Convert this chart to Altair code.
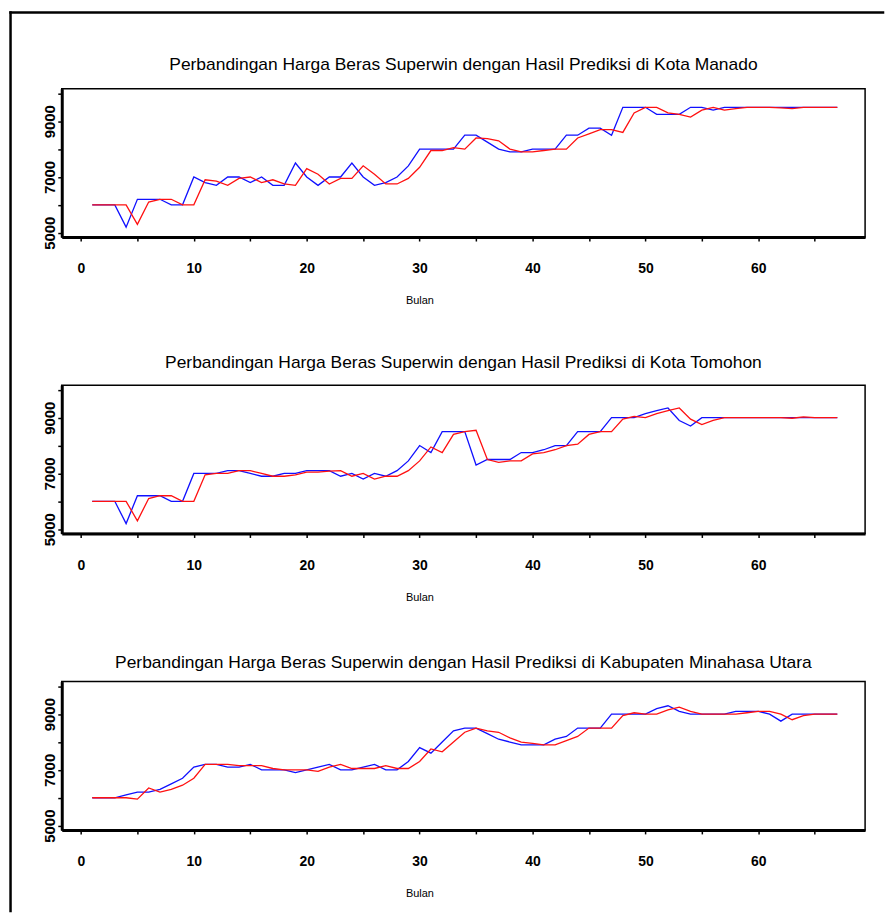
import altair as alt
import pandas as pd

bulan = list(range(1, 68))

manado_aktual = [6000, 6000, 6000, 5200, 6200, 6200, 6200, 6000, 6000,
                 7000, 6800, 6700, 7000, 7000, 6800, 7000, 6700, 6700, 7500,
                 7000, 6700, 7000, 7000, 7500, 7000, 6700, 6800, 7000, 7400,
                 8000, 8000, 8000, 8000, 8500, 8500, 8250, 8000, 7900, 7900,
                 8000, 8000, 8000, 8500, 8500, 8750, 8750, 8500, 9500, 9500,
                 9500, 9250, 9250, 9250, 9500, 9500, 9400,
                 9500, 9500, 9500, 9500, 9500, 9500, 9500, 9500, 9500, 9500, 9500]
manado_prediksi = [6000, 6000, 6000, 6000, 5300, 6100, 6200, 6200, 6000, 6000,
                   6900, 6850, 6700, 6950, 7000, 6800, 6900, 6750, 6700, 7300,
                   7100, 6750, 6950, 6950, 7400, 7100, 6750, 6750, 6950, 7350,
                   7950, 7950, 8050, 8000, 8400, 8380, 8300, 8000, 7900, 7900,
                   7950, 8000, 8000, 8400, 8550, 8700, 8700, 8600, 9300, 9500,
                   9500, 9300, 9250, 9150, 9400, 9500, 9400, 9450, 9500, 9500,
                   9500, 9480, 9450, 9500, 9500, 9500, 9500]

tomohon_aktual = [6000, 6000, 6000, 5200, 6200, 6200, 6200, 6000, 6000,
                  7000, 7000, 7000, 7100, 7100, 7000, 6900, 6900, 7000, 7000,
                  7100, 7100, 7100, 6900, 7000, 6800, 7000, 6900, 7100, 7450,
                  8000, 7750, 8500, 8500, 8500, 7300, 7500, 7500, 7500, 7750,
                  7750, 7850, 8000, 8000, 8500, 8500, 8500, 9000, 9000, 9000,
                  9150, 9250, 9350, 8900, 8700,
                  9000, 9000, 9000, 9000, 9000, 9000, 9000, 9000, 9000, 9000, 9000, 9000, 9000]
tomohon_prediksi = [6000, 6000, 6000, 6000, 5300, 6100, 6200, 6200, 6000, 6000,
                    6950, 7000, 7000, 7100, 7100, 7000, 6900, 6900, 6950, 7050,
                    7050, 7080, 7100, 6900, 7000, 6800, 6900, 6900, 7100, 7450,
                    7950, 7750, 8400, 8500, 8550, 7500, 7400, 7450, 7450, 7700,
                    7750, 7850, 8000, 8050, 8400, 8500, 8500, 8950, 9050, 9000,
                    9150, 9250, 9350, 8950, 8750, 8900, 9000, 9000, 9000, 9000,
                    9000, 9000, 8980, 9030, 9000, 9000, 9000]

minut_aktual = [6000, 6000, 6000, 6100, 6200, 6200, 6300, 6500, 6700, 7100,
                7200, 7200, 7100, 7100, 7200, 7000, 7000, 7000, 6900, 7000,
                7100, 7200, 7000, 7000, 7100, 7200, 7000, 7000, 7300, 7800,
                7600, 8000, 8400, 8500, 8500, 8300, 8100, 8000, 7900, 7900,
                7900, 8100, 8200, 8500, 8500, 8500, 9000, 9000, 9000, 9000,
                9200, 9300, 9100, 9000, 9000, 9000, 9000, 9100, 9100, 9100,
                9000, 8750, 9000, 9000, 9000, 9000, 9000]
minut_prediksi = [6000, 6000, 6000, 6000, 5950, 6350, 6200, 6300, 6450, 6700,
                  7200, 7200, 7200, 7150, 7150, 7150, 7050, 7000, 7000, 7000,
                  6950, 7100, 7200, 7050, 7050, 7050, 7150, 7050, 7050, 7300,
                  7750, 7650, 8000, 8350, 8500, 8400, 8350, 8150, 8000, 7950,
                  7900, 7900, 8050, 8200, 8500, 8500, 8500, 8950, 9050, 9000,
                  9000, 9150, 9250, 9100, 9000, 9000, 9000, 9000, 9050, 9100,
                  9100, 9000, 8800, 8950, 9000, 9000, 9000]

judul = [
    "Perbandingan Harga Beras Superwin dengan Hasil Prediksi di Kota Manado",
    "Perbandingan Harga Beras Superwin dengan Hasil Prediksi di Kota Tomohon",
    "Perbandingan Harga Beras Superwin dengan Hasil Prediksi di Kabupaten Minahasa Utara",
]
seri = ["Aktual", "Prediksi"]
warna = ["#1010ff", "#ff1010"]
x_ticks = [0, 5, 10, 15, 20, 25, 30, 35, 40, 45, 50, 55, 60, 65]
y_ticks = [5000, 6000, 7000, 8000, 9000, 10000]

W, H = 807, 149


def panel(aktual, prediksi, title, title_offset, border=False):
    df = pd.DataFrame({"Bulan": bulan, "Aktual": aktual, "Prediksi": prediksi})
    lines = alt.Chart(df).transform_fold(seri, as_=["Seri", "Harga"]).mark_line(
        strokeWidth=1.3
    ).encode(
        x=alt.X("Bulan:Q",
                scale=alt.Scale(domain=[-1.7, 69.46], nice=False, zero=False),
                axis=alt.Axis(values=x_ticks, title="Bulan",
                              labelExpr="datum.value % 10 == 0 ? datum.label : ''")),
        y=alt.Y("Harga:Q",
                scale=alt.Scale(domain=[4846, 10168], nice=False, zero=False),
                axis=alt.Axis(values=y_ticks, title=None, format="d",
                              labelExpr="datum.value % 2000 == 1000 ? datum.label : ''")),
        color=alt.Color("Seri:N", scale=alt.Scale(domain=seri, range=warna), legend=None),
        order=alt.Order("Bulan:Q"),
    )
    one = pd.DataFrame({"k": [0]})
    judul_teks = alt.Chart(one).mark_text(
        font="Liberation Sans", fontSize=17.5, color="black",
        align="center", baseline="alphabetic",
    ).encode(x=alt.value(W / 2), y=alt.value(-title_offset), text=alt.value(title))
    layers = [lines, judul_teks]
    if border:
        top = alt.Chart(one).mark_rule(color="black", strokeWidth=2.5, strokeCap="square").encode(
            x=alt.value(-51.45), x2=alt.value(825), y=alt.value(-76.45))
        left = alt.Chart(one).mark_rule(color="black", strokeWidth=2.5, strokeCap="square").encode(
            x=alt.value(-51.45), y=alt.value(-76.45), y2=alt.value(826))
        layers += [top, left]
    return alt.layer(*layers).properties(width=W, height=H)


p1 = panel(manado_aktual, manado_prediksi, judul[0], 18.4, border=True)
p2 = panel(tomohon_aktual, tomohon_prediksi, judul[1], 17)
p3 = panel(minut_aktual, minut_prediksi, judul[2], 14)

chart = alt.vconcat(p1, p2, p3, spacing=148.8, bounds="flush").properties(
    padding=0, background="white"
).configure_view(
    stroke="black", strokeWidth=1.5
).configure_axis(
    domainColor="black", domainWidth=3, tickColor="black", tickWidth=1.5, tickSize=4,
    grid=False, labelColor="black", titleColor="black",
).configure_axisX(
    labelFont="Liberation Sans", labelFontSize=14, labelFontWeight="bold",
    labelBaseline="alphabetic", labelPadding=31.7,
    titleFont="Liberation Sans", titleFontSize=11, titleFontWeight="normal",
    titleBaseline="alphabetic", titleY=67, titleX=359.3, titleAnchor="start", titleAlign="center",
).configure_axisY(
    labelFont="Liberation Sans", labelFontSize=15, labelFontWeight="bold",
    labelAngle=270, labelAlign="center", labelBaseline="alphabetic", labelPadding=3.7,
)

chart.save("out.html", embed_options={"renderer": "svg", "actions": False})
